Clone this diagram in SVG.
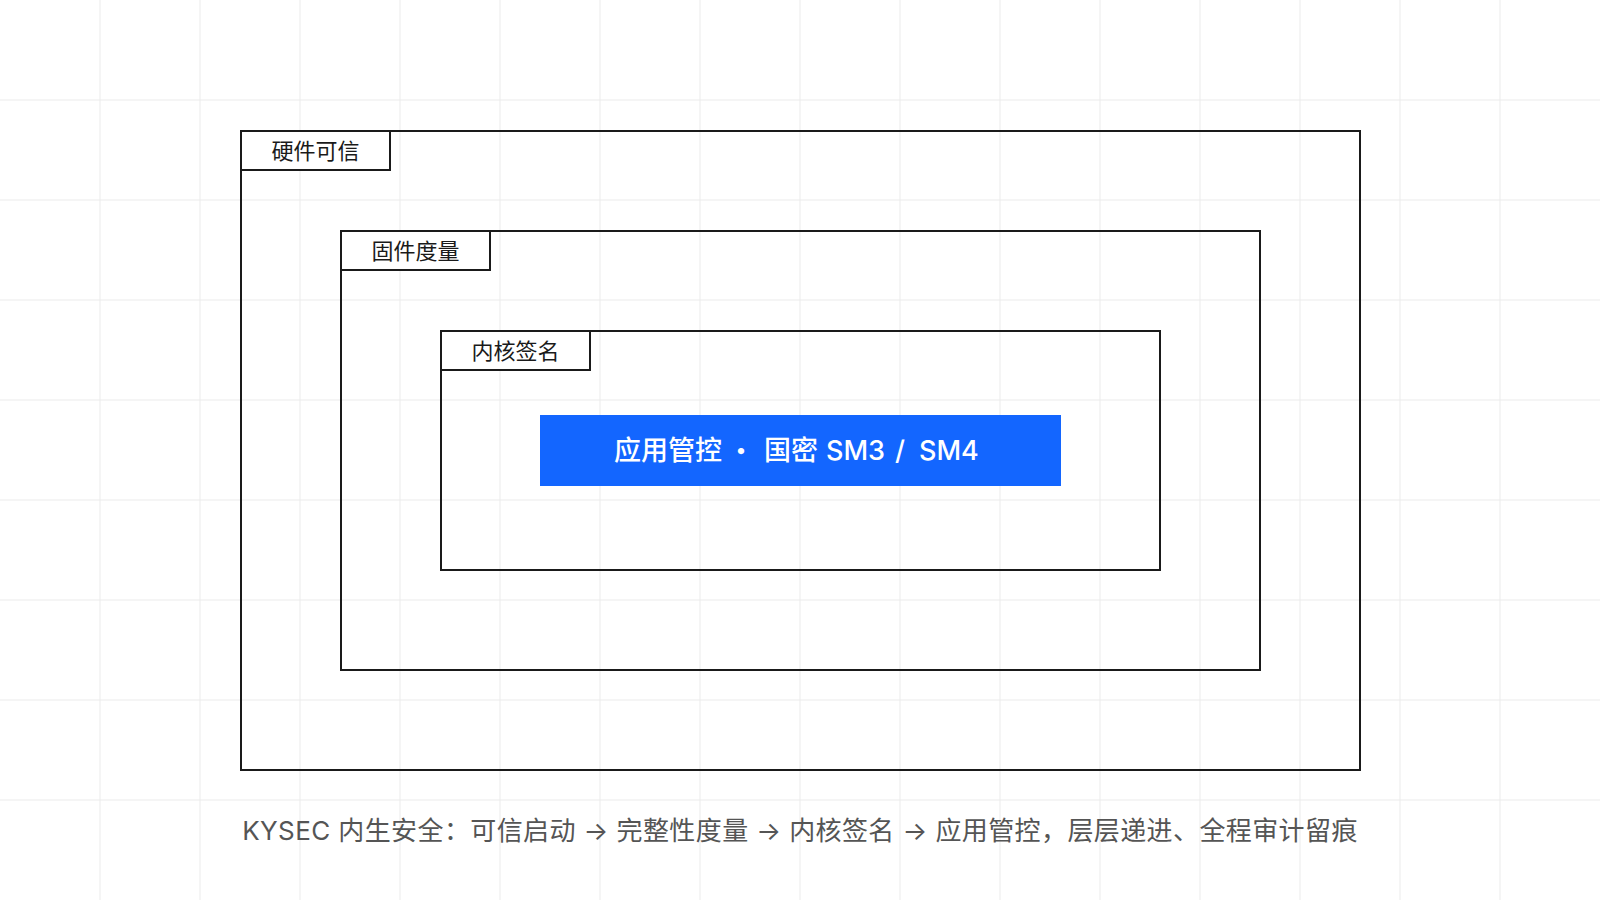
<svg xmlns="http://www.w3.org/2000/svg" width="1600" height="900" viewBox="0 0 1600 900">
<defs>
<style>
.grid line{stroke:#ebebeb;stroke-width:1}
.frame{fill:none;stroke:#1a1a1a;stroke-width:2}
.tab{fill:#ffffff;stroke:#1a1a1a;stroke-width:2}
.tabtxt{font-family:Inter,"Noto Sans CJK SC",sans-serif;font-size:22px;fill:#1a1a1a;text-anchor:middle}
.core{fill:#1366ff}
.coretxt{font-family:Inter,"Noto Sans CJK SC",sans-serif;font-size:27px;font-weight:500;fill:#ffffff}
.caption{font-family:Inter,"Noto Sans CJK SC",sans-serif;font-size:26px;fill:#555555;text-anchor:middle;letter-spacing:0.4px}
</style>
</defs>
<rect width="1600" height="900" fill="#ffffff"/>
<g class="grid">
<line x1="100" y1="0" x2="100" y2="900"/><line x1="200" y1="0" x2="200" y2="900"/><line x1="300" y1="0" x2="300" y2="900"/><line x1="400" y1="0" x2="400" y2="900"/><line x1="500" y1="0" x2="500" y2="900"/><line x1="600" y1="0" x2="600" y2="900"/><line x1="700" y1="0" x2="700" y2="900"/><line x1="800" y1="0" x2="800" y2="900"/><line x1="900" y1="0" x2="900" y2="900"/><line x1="1000" y1="0" x2="1000" y2="900"/><line x1="1100" y1="0" x2="1100" y2="900"/><line x1="1200" y1="0" x2="1200" y2="900"/><line x1="1300" y1="0" x2="1300" y2="900"/><line x1="1400" y1="0" x2="1400" y2="900"/><line x1="1500" y1="0" x2="1500" y2="900"/>
<line x1="0" y1="100" x2="1600" y2="100"/><line x1="0" y1="200" x2="1600" y2="200"/><line x1="0" y1="300" x2="1600" y2="300"/><line x1="0" y1="400" x2="1600" y2="400"/><line x1="0" y1="500" x2="1600" y2="500"/><line x1="0" y1="600" x2="1600" y2="600"/><line x1="0" y1="700" x2="1600" y2="700"/><line x1="0" y1="800" x2="1600" y2="800"/>
</g>
<g id="hardware">
<rect class="frame" x="241" y="131" width="1119" height="639" fill="#ffffff"/>
<rect class="tab" x="241" y="131" width="149" height="39"/>
<text class="tabtxt" x="315.5" y="159">硬件可信</text>
</g>
<g id="firmware">
<rect class="frame" x="341" y="231" width="919" height="439"/>
<rect class="tab" x="341" y="231" width="149" height="39"/>
<text class="tabtxt" x="415.5" y="259">固件度量</text>
</g>
<g id="kernel">
<rect class="frame" x="441" y="331" width="719" height="239"/>
<rect class="tab" x="441" y="331" width="149" height="39"/>
<text class="tabtxt" x="515.5" y="359">内核签名</text>
</g>
<g id="core">
<rect class="core" x="540" y="415" width="521" height="71"/>
<text class="coretxt" y="460"><tspan x="614">应用管控</tspan><tspan x="735" font-size="34" font-weight="800" dy="3">·</tspan><tspan x="764" dy="-3">国密</tspan><tspan x="826">SM3</tspan><tspan x="895">/</tspan><tspan x="919">SM4</tspan></text>
</g>
<g id="connectors"></g>
<text class="caption" x="800" y="840">KYSEC 内生安全：可信启动 → 完整性度量 → 内核签名 → 应用管控，层层递进、全程审计留痕</text>
</svg>
